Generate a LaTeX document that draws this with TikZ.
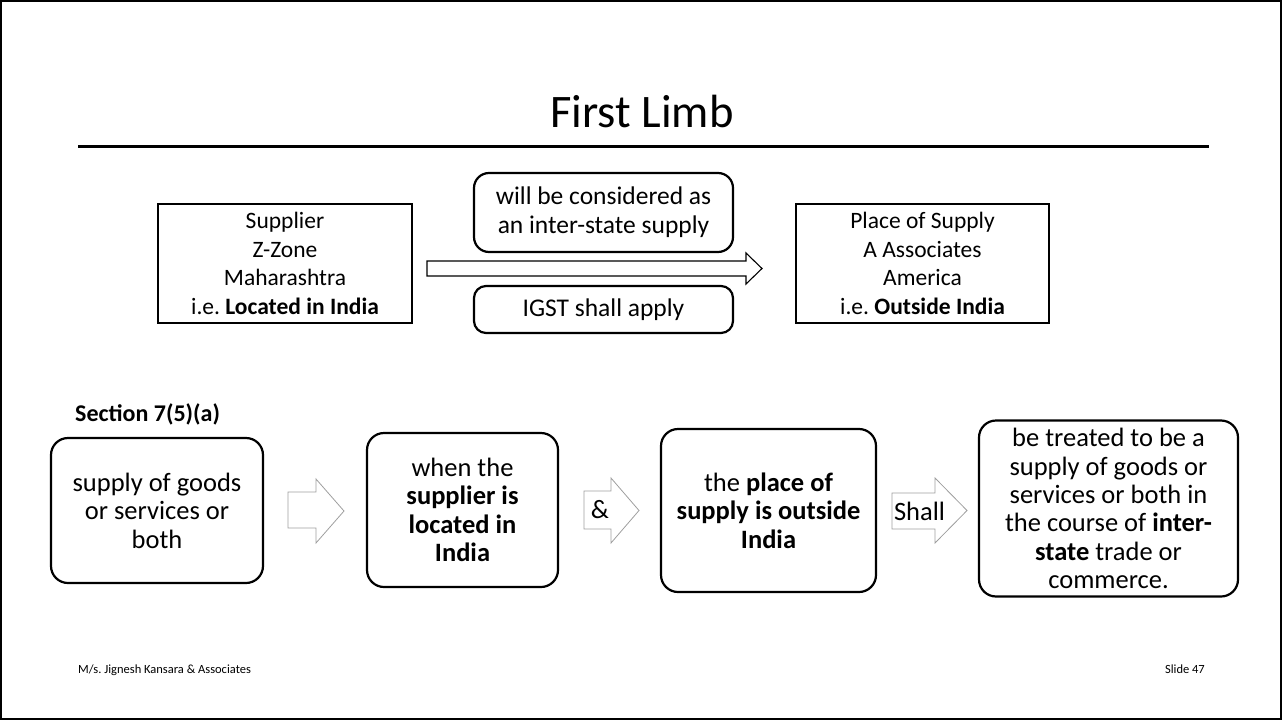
\documentclass[tikz,border=0pt]{standalone}
\usepackage{fontspec}
\setmainfont{Carlito}
\frenchspacing
\begin{document}
\begin{tikzpicture}[x=1pt,y=-1pt,
  sqbox/.style={draw, line width=2.4pt, inner sep=0pt, align=center,
    font=\fontsize{23.5}{28.7}\selectfont},
  rbox/.style={draw, line width=2.2pt, rounded corners=15pt, inner sep=0pt, align=center},
  midfont/.style={font=\fontsize{25.5}{29}\selectfont},
  lowfont/.style={font=\fontsize{26.5}{28.5}\selectfont},
  blockarr/.style={draw=black!38, line width=0.8pt, line join=miter},
  bigarr/.style={draw=black, line width=1.1pt, line join=miter},
  foot/.style={font=\fontsize{12.5}{14}\selectfont}]
\useasboundingbox (0,0) rectangle (1282,720);
% slide frame
\draw[line width=2pt] (1,1) rectangle (1281,719);

% title and rule
\node[anchor=base, font=\fontsize{46.6}{52}\selectfont, inner sep=0pt] (title) at (642,127) {First Limb};
\draw[line width=3pt] (78,146) -- (1209,146);

% upper example
\node[sqbox, minimum width=254pt, minimum height=119pt] (supplier) at (285,263.5)
  {Supplier\\Z-Zone\\Maharashtra\\i.e. \textbf{Located in India}};
\node[sqbox, minimum width=253pt, minimum height=119pt] (pos) at (922.5,263.5)
  {Place of Supply\\A Associates\\America\\i.e. \textbf{Outside India}};
\draw[bigarr] (427,261) -- (746,261) -- (746,253) -- (762,268.5) -- (746,284) -- (746,276) -- (427,276) -- cycle;
\node[rbox, midfont, minimum width=259pt, minimum height=79pt] (inter) at (603.5,212.5)
  {will be considered as\\an inter-state supply};
\node[rbox, midfont, rounded corners=12pt, minimum width=259pt, minimum height=47pt] (igst) at (603.5,309.5)
  {IGST shall apply};

% section 7(5)(a)
\node[anchor=base west, inner sep=0pt, font=\fontsize{24}{28}\selectfont\bfseries] (sec) at (75,421) {Section 7(5)(a)};

\node[rbox, lowfont, rounded corners=17pt, minimum width=212pt, minimum height=145pt] (s1) at (157,510.5)
  {supply of goods\\or services or\\both};
\node[rbox, lowfont, rounded corners=17pt, minimum width=191pt, minimum height=154pt] (s2) at (462.5,510)
  {when the\\\textbf{supplier is}\\\textbf{located in}\\\textbf{India}};
\node[rbox, lowfont, rounded corners=17pt, minimum width=215pt, minimum height=163pt] (s3) at (768.5,510.5)
  {the \textbf{place of}\\\textbf{supply is outside}\\\textbf{India}};
\node[rbox, font=\fontsize{26.5}{28.3}\selectfont, rounded corners=17pt, minimum width=259pt, minimum height=176pt] (s4) at (1108.5,508.5)
  {be treated to be a\\supply of goods or\\services or both in\\the course of \textbf{inter-}\\\textbf{state} trade or\\commerce.};

% block arrows between the steps
\draw[blockarr] (288,492) -- (316,492) -- (316,479) -- (344,511) -- (316,543) -- (316,528) -- (288,528) -- cycle;
\draw[blockarr] (584,491) -- (611,491) -- (611,478) -- (639,510.5) -- (611,543) -- (611,529) -- (584,529) -- cycle;
\node[lowfont, inner sep=0pt] (amp) at (600,510) {\&};
\draw[blockarr] (892,493) -- (935,493) -- (935,478) -- (967,510.5) -- (935,543) -- (935,529) -- (892,529) -- cycle;
\node[lowfont, inner sep=0pt] (shall) at (919.5,511) {Shall};

% footer
\node[foot, anchor=base west, inner sep=0pt] (firm) at (78,673) {M/s. Jignesh Kansara \& Associates};
\node[foot, anchor=base east, inner sep=0pt] (slide) at (1205,673) {Slide 47};
\end{tikzpicture}
\end{document}
